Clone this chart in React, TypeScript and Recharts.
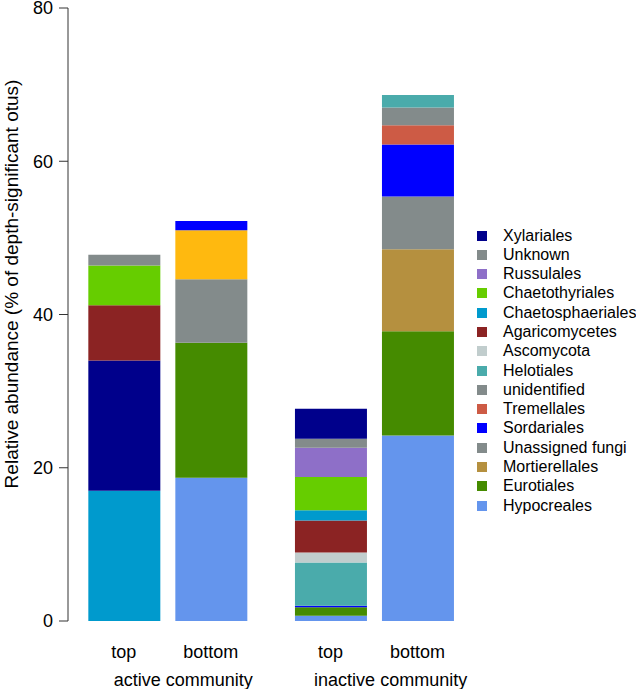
import { BarChart, Bar, XAxis, YAxis, Cell, Label } from 'recharts';

// stack order inside each bar goes bottom -> top
const barLabels = ['top', 'bottom', 'top', 'bottom'];
const groupLabels = ['active community', 'inactive community'];

const legendTaxa = [
  'Xylariales',
  'Unknown',
  'Russulales',
  'Chaetothyriales',
  'Chaetosphaeriales',
  'Agaricomycetes',
  'Ascomycota',
  'Helotiales',
  'unidentified',
  'Tremellales',
  'Sordariales',
  'Unassigned fungi',
  'Mortierellales',
  'Eurotiales',
  'Hypocreales',
];

const activeTopTaxa = ['Chaetosphaeriales', 'Xylariales', 'Agaricomycetes', 'Chaetothyriales', 'Unknown'];
const activeTopValues = [17.0, 17.0, 7.2, 5.2, 1.4];

const activeBottomTaxa = ['Hypocreales', 'Eurotiales', 'Unassigned fungi', 'Other', 'Sordariales'];
const activeBottomValues = [18.7, 17.6, 8.3, 6.4, 1.2];

const inactiveTopTaxa = [
  'Hypocreales',
  'Eurotiales',
  'Sordariales',
  'Helotiales',
  'Ascomycota',
  'Agaricomycetes',
  'Chaetosphaeriales',
  'Chaetothyriales',
  'Russulales',
  'Unknown',
  'Xylariales',
];
const inactiveTopValues = [0.7, 1.1, 0.2, 5.65, 1.3, 4.15, 1.35, 4.35, 3.8, 1.2, 3.9];

const inactiveBottomTaxa = [
  'Hypocreales',
  'Eurotiales',
  'Mortierellales',
  'Unassigned fungi',
  'Sordariales',
  'Tremellales',
  'unidentified',
  'Helotiales',
];
const inactiveBottomValues = [24.2, 13.6, 10.7, 6.9, 6.8, 2.5, 2.3, 1.65];

const yTicks = [0, 20, 40, 60, 80];

const COLORS: Record<string, string> = {
  Xylariales: '#00008B',
  Unknown: '#838B8B',
  Russulales: '#8E6FC8',
  Chaetothyriales: '#66CD00',
  Chaetosphaeriales: '#009ACD',
  Agaricomycetes: '#8B2323',
  Ascomycota: '#C1CDCD',
  Helotiales: '#4AABAB',
  unidentified: '#838B8B',
  Tremellales: '#CD5B45',
  Sordariales: '#0000FF',
  'Unassigned fungi': '#838B8B',
  Mortierellales: '#B5903F',
  Eurotiales: '#458B00',
  Hypocreales: '#6495ED',
  Other: '#FFB90F',
};

// layout like R's barplot: width 1, space 0.2 inside a group, wider gap between groups
const BAR_MID = [0.7, 1.9, 3.55, 4.75];
const GROUP_MID = [1.3 + 0.22, 4.15 + 0.23];
const X_DOMAIN: [number, number] = [-0.07, 5.447];

const stacks = [
  { taxa: activeTopTaxa, values: activeTopValues },
  { taxa: activeBottomTaxa, values: activeBottomValues },
  { taxa: inactiveTopTaxa, values: inactiveTopValues },
  { taxa: inactiveBottomTaxa, values: inactiveBottomValues },
];
const layerCount = Math.max(...stacks.map((s) => s.values.length));
const layers = Array.from({ length: layerCount }, (_, k) => k);

const rows = stacks.map((s, i) => {
  const row: Record<string, number> = { pos: BAR_MID[i] };
  layers.forEach((k) => {
    row[`s${k}`] = s.values[k] ?? 0;
  });
  return row;
});

const font = '"Liberation Sans", Arial, Helvetica, sans-serif';

export default function App() {
  return (
    <div style={{ position: 'absolute', left: 0, top: 0, width: 636, height: 689, fontFamily: font, background: '#fff' }}>
      <BarChart width={636} height={689} data={rows} margin={{ top: 8, right: 168, bottom: 0, left: 0 }}>
        <XAxis
          xAxisId="bars"
          type="number"
          dataKey="pos"
          domain={X_DOMAIN}
          ticks={BAR_MID}
          interval={0}
          tickFormatter={(v: number) => barLabels[BAR_MID.indexOf(v)] ?? ''}
          axisLine={false}
          tickLine={false}
          tickSize={10}
          tickMargin={14}
          height={40}
          tick={{ fontSize: 18, fill: '#000' }}
        />
        <XAxis
          xAxisId="groups"
          type="number"
          dataKey="pos"
          domain={X_DOMAIN}
          ticks={GROUP_MID}
          interval={0}
          tickFormatter={(v: number) => groupLabels[GROUP_MID.indexOf(v)] ?? ''}
          axisLine={false}
          tickLine={false}
          tickSize={0}
          tickMargin={12}
          height={28}
          tick={{ fontSize: 18, fill: '#000' }}
        />
        <YAxis
          width={68}
          type="number"
          domain={[0, 80]}
          ticks={yTicks}
          interval={0}
          tickSize={9}
          tickMargin={6}
          tick={{ fontSize: 18, fill: '#000' }}
          axisLine={{ stroke: '#333' }}
          tickLine={{ stroke: '#333' }}
        >
          <Label
            content={() => (
              <text
                x={11}
                y={284}
                transform="rotate(-90, 11, 284)"
                textAnchor="middle"
                dominantBaseline="central"
                fontSize={19}
                fill="#000"
              >
                Relative abundance (% of depth-significant otus)
              </text>
            )}
          />
        </YAxis>
        {layers.map((k) => (
          <Bar key={k} xAxisId="bars" dataKey={`s${k}`} stackId="a" barSize={72} isAnimationActive={false}>
            {stacks.map((s, i) => (
              <Cell key={i} fill={COLORS[s.taxa[k]] ?? 'transparent'} />
            ))}
          </Bar>
        ))}
      </BarChart>
      <div style={{ position: 'absolute', left: 477, top: 226 }}>
        {legendTaxa.map((t) => (
          <div key={t} style={{ display: 'flex', alignItems: 'center', height: 19.29, fontSize: 16, color: '#000', whiteSpace: 'nowrap' }}>
            <span style={{ width: 10, height: 10, background: COLORS[t], marginRight: 16, flex: 'none' }} />
            <span>{t}</span>
          </div>
        ))}
      </div>
    </div>
  );
}
